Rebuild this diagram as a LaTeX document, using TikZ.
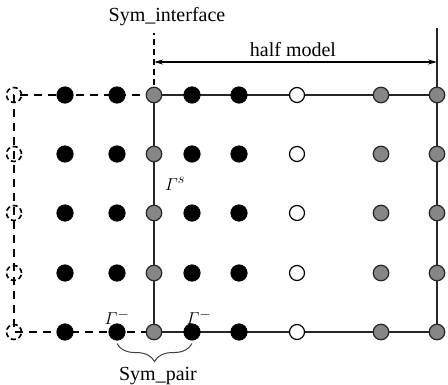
\documentclass[tikz,border=0pt]{standalone}
\usepackage{amsmath}
\usepackage{fontspec}
\setmainfont{Liberation Serif}
\usetikzlibrary{arrows.meta,decorations.pathreplacing}
\begin{document}
\begin{tikzpicture}[x=1pt,y=1pt,
  blk/.style={circle,fill=black,draw=black,line width=0.6pt,minimum size=16.5pt,inner sep=0pt},
  gry/.style={circle,fill=gray!95,draw=black!85,line width=1.2pt,minimum size=15.5pt,inner sep=0pt},
  wht/.style={circle,fill=white,draw=black,line width=1.2pt,minimum size=15pt,inner sep=0pt},
  ghost/.style={circle,draw=black,dashed,dash pattern=on 5pt off 3pt,line width=1.6pt,minimum size=15pt,inner sep=0pt},
  solidln/.style={line width=1.3pt,black!85},
  dashln/.style={line width=2.4pt,dash pattern=on 8pt off 6pt},
  lbl/.style={font=\fontsize{20}{24}\selectfont,inner sep=0pt},
  gam/.style={font=\fontsize{19}{22}\selectfont,inner sep=0pt}]
\useasboundingbox (0,0) rectangle (448,384);
% coordinates of rows
\foreach \r/\y in {1/289,2/230,3/171,4/111,5/52}{
  \coordinate (g\r) at (14,\y);
  \coordinate (a\r) at (65,\y);
  \coordinate (b\r) at (117,\y);
  \coordinate (s\r) at (154,\y);
  \coordinate (c\r) at (192,\y);
  \coordinate (d\r) at (239,\y);
  \coordinate (e\r) at (297,\y);
  \coordinate (f\r) at (381,\y);
  \coordinate (h\r) at (437,\y);
}
\coordinate (stop) at (154,351);
\coordinate (htop) at (437,356);
% lines
\draw[solidln] (s1) -- (h1) -- (h5) -- (s5) -- cycle;
\draw[solidln] (h1) -- (htop);
\draw[dashln] (s1) -- (g1) -- (g5) -- (s5);
\draw[line width=1.6pt,dash pattern=on 6pt off 4pt] (s1) -- (stop);
% nodes
\foreach \r in {1,...,5}{
  \node[ghost] (ng\r) at (g\r) {};
  \node[blk] (na\r) at (a\r) {};
  \node[blk] (nb\r) at (b\r) {};
  \node[gry] (ns\r) at (s\r) {};
  \node[blk] (nc\r) at (c\r) {};
  \node[blk] (nd\r) at (d\r) {};
  \node[wht] (ne\r) at (e\r) {};
  \node[gry] (nf\r) at (f\r) {};
  \node[gry] (nh\r) at (h\r) {};
}
% arrow
\coordinate (al) at (154,322);
\coordinate (ar) at (437,322);
\draw[line width=1.2pt,{Stealth[length=9pt,width=5pt]}-{Stealth[length=9pt,width=5pt]}] (al) -- (ar);
% labels
\node[lbl] (symint) at (167,367) {Sym\_interface};
\node[lbl] (half) at (293,334) {half model};
\node[lbl] (sympair) at (158,8) {Sym\_pair};
\node[gam] (gs) at (175,200) {$\varGamma^{s}$};
\node[gam] (gm) at (117,67) {$\varGamma^{-}$};
\node[gam] (gp) at (199,67) {$\varGamma^{-}$};
% brace
\draw[black!75,line width=1pt,decorate,decoration={brace,mirror,amplitude=18pt}] (nb5.south) ++(0,-3) coordinate (bl) (bl) -- (bl -| nc5);
\end{tikzpicture}
\end{document}
